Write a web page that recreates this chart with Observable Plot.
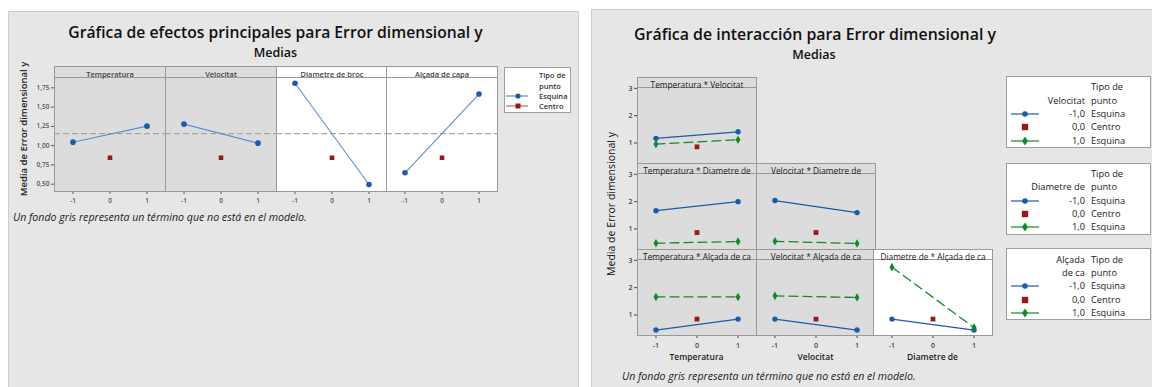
<!DOCTYPE html>
<html><head><meta charset="utf-8">
<script src="https://cdn.jsdelivr.net/npm/d3@7"></script>
<script src="https://cdn.jsdelivr.net/npm/@observablehq/plot@0.6"></script>
<style>
body{margin:0;background:#fff;font-family:"Open Sans","Noto Sans",sans-serif;}
#root{position:relative;width:1152px;height:387px;overflow:hidden;background:#fff}
.t{position:absolute;white-space:nowrap;line-height:1}
</style></head>
<body><div id="root"></div>
<script>
// ---------- DATA: main effects ----------
const mainFactors = ["Temperatura", "Velocitat", "Diametre de broc", "Alçada de capa"];
const mainInModel = [false, false, true, true];
const levels = [-1, 1];
const mainLow = [1.045, 1.279, 1.81, 0.648];   // mean at level -1 (Esquina)
const mainHigh = [1.253, 1.032, 0.496, 1.669]; // mean at level 1 (Esquina)
const mainCenter = [0.843, 0.843, 0.843, 0.843]; // mean at 0 (Centro)
const grandMean = 1.155;
const mainYTicks = [0.5, 0.75, 1.0, 1.25, 1.5, 1.75];
const xTicks = [-1, 0, 1];

// ---------- DATA: interactions ----------
const intColFactors = ["Temperatura", "Velocitat", "Diametre de"];
const intRowFactors = ["Velocitat", "Diametre de", "Alçada de ca"];
const intStrips = ["Temperatura * Velocitat", "Temperatura * Diametre de", "Velocitat * Diametre de",
                   "Temperatura * Alçada de ca", "Velocitat * Alçada de ca", "Diametre de * Alçada de ca"];
const intX = ["Temperatura", "Temperatura", "Velocitat", "Temperatura", "Velocitat", "Diametre de"];
const intTrace = ["Velocitat", "Diametre de", "Diametre de", "Alçada de ca", "Alçada de ca", "Alçada de ca"];
const intInModel = [false, false, false, false, false, true];
const intBlueLow = [1.17, 1.67, 2.04, 0.45, 0.85, 0.85];   // trace -1,0 at x=-1
const intBlueHigh = [1.41, 2.00, 1.60, 0.85, 0.45, 0.45];  // trace -1,0 at x=1
const intGreenLow = [0.96, 0.48, 0.55, 1.66, 1.70, 2.75];  // trace 1,0 at x=-1
const intGreenHigh = [1.12, 0.54, 0.47, 1.66, 1.64, 0.54]; // trace 1,0 at x=1
const intCenter = [0.86, 0.87, 0.87, 0.85, 0.85, 0.85];    // centro at x=0
const intYTicks = [1, 2, 3];
const legendLevels = ["-1,0", "0,0", "1,0"];
const legendTypes = ["Esquina", "Centro", "Esquina"];

// ---------- STYLE ----------
const FONT = '"Open Sans","Noto Sans",sans-serif';
const BLUE = "#1b5ba8", BLUE_L = "#5b8fd0", GREEN = "#14882c", RED = "#961a1a";
const GRAYBG = "#dcdcdc";
const root = document.getElementById("root");

function el(html, css) {
  const d = document.createElement("div");
  d.innerHTML = html; d.style.cssText = css; root.appendChild(d); return d;
}
function txt(s, x, y, css, anchor = "middle", parent = root) {
  const d = document.createElement("div");
  d.className = "t"; d.textContent = s;
  const tx = anchor === "middle" ? "-50%" : anchor === "end" ? "-100%" : "0";
  d.style.cssText = `left:${x}px;top:${y}px;transform:translate(${tx},-50%);` + css;
  parent.appendChild(d); return d;
}

function cell(o) {
  const mL = 34, mR = 2, mB = 26, sH = o.stripH;
  const svg = Plot.plot({
    width: o.w + mL + mR, height: sH + o.h + mB,
    marginTop: sH, marginLeft: mL, marginRight: mR, marginBottom: mB,
    style: {background: "transparent", fontFamily: FONT, fontSize: o.tickFont + "px", fontWeight: 600, color: o.tickColor, overflow: "visible"},
    x: {domain: o.xDomain, axis: o.showX ? "bottom" : null, ticks: xTicks, tickFormat: d => String(d), tickSize: 3, tickPadding: o.xPad, label: null},
    y: {domain: o.yDomain, axis: o.showY ? "left" : null, ticks: o.yTicks, tickFormat: o.yFmt, tickSize: 3, tickPadding: 2, label: null},
    marks: [
      Plot.frame({fill: o.bg, stroke: "#999999"}),
      Plot.frame({fill: o.bg, stroke: "#999999", insetTop: -sH, insetBottom: o.h}),
      Plot.text([o.strip], {text: d => d, frameAnchor: "top", dy: -sH / 2, fontSize: o.stripFont, fontWeight: o.stripWeight, fill: o.stripColor}),
      ...o.marks
    ]
  });
  svg.style.position = "absolute";
  svg.style.left = (o.left - mL) + "px";
  svg.style.top = o.top + "px";
  root.appendChild(svg);
}

// ---------- panels ----------
el("", "position:absolute;left:8px;top:11px;width:571px;height:400px;background:#e6e6e6;border:1px solid #cdcdcd;box-sizing:border-box");
el("", "position:absolute;left:591px;top:9px;width:600px;height:400px;background:#e6e6e6;border:1px solid #cdcdcd;box-sizing:border-box");

// ---------- LEFT: main effects ----------
txt("Gráfica de efectos principales para Error dimensional y", 275.5, 32.5, "font-size:15.7px;font-weight:600;color:#111");
txt("Medias", 275.5, 53.2, "font-size:12.5px;font-weight:600;color:#111");
txt("Media de Error dimensional y", 24, 129, "font-size:9.5px;font-weight:600;color:#222;transform:translate(-50%,-50%) rotate(-90deg)");

const mainLefts = [54, 165, 276, 386];
mainFactors.forEach((f, i) => {
  const pts = levels.map((lv, j) => ({x: lv, y: j ? mainHigh[i] : mainLow[i]}));
  cell({
    left: mainLefts[i], top: 66, w: 111, h: 114, stripH: 11,
    xDomain: [-1.5, 1.5], yDomain: [0.405, 1.884], yTicks: mainYTicks,
    yFmt: d => d.toFixed(2).replace(".", ","), showX: true, showY: i === 0, xPad: 4,
    tickFont: 6.5, tickColor: "#555",
    bg: mainInModel[i] ? "#ffffff" : GRAYBG, strip: f, stripFont: 7.5, stripWeight: 600, stripColor: "#444",
    marks: [
      Plot.ruleY([grandMean], {stroke: "#a6a6a6", strokeWidth: 1.2, strokeDasharray: "6,3"}),
      Plot.line(pts, {x: "x", y: "y", stroke: BLUE_L, strokeWidth: 1.1}),
      Plot.dot(pts, {x: "x", y: "y", r: 2.8, fill: BLUE}),
      Plot.dot([{x: 0, y: mainCenter[i]}], {x: "x", y: "y", symbol: "square", r: 2.6, fill: RED})
    ]
  });
});
txt("Un fondo gris representa un término que no está en el modelo.", 13, 216.5, "font-size:10.6px;font-style:italic;color:#222", "start");

// left legend
{
  const lg = el("", "position:absolute;left:504px;top:67px;width:67px;height:46px;background:#fff;border:1px solid #9e9e9e;box-sizing:border-box");
  const tx = "font-size:7.5px;font-weight:600;color:#333";
  txt("Tipo de", 34, 8, tx, "start", lg);
  txt("punto", 34, 18.5, tx, "start", lg);
  txt("Esquina", 34, 29, tx, "start", lg);
  txt("Centro", 34, 39, tx, "start", lg);
  el(`<svg width="24" height="8"><line x1="1" y1="4" x2="23" y2="4" stroke="${BLUE_L}" stroke-width="1.2"/><circle cx="13" cy="4" r="2.6" fill="${BLUE}"/></svg>`, "position:absolute;left:505px;top:92px;line-height:0");
  el(`<svg width="24" height="8"><line x1="1" y1="4" x2="23" y2="4" stroke="#b86a6a" stroke-width="1.2"/><rect x="10.5" y="1.5" width="5" height="5" fill="${RED}"/></svg>`, "position:absolute;left:505px;top:102px;line-height:0");
}

// ---------- RIGHT: interactions ----------
txt("Gráfica de interacción para Error dimensional y", 815, 35, "font-size:15.9px;font-weight:600;color:#111");
txt("Medias", 814, 54.5, "font-size:12.5px;font-weight:600;color:#111");
txt("Media de Error dimensional y", 611, 204, "font-size:10.5px;color:#111;transform:translate(-50%,-50%) rotate(-90deg)");

const colLefts = [637, 756, 873];
const rowTops = [77, 163, 249];
intStrips.forEach((s, i) => {
  const c = intColFactors.indexOf(intX[i]);
  const r = intRowFactors.indexOf(intTrace[i]);
  const blue = levels.map((lv, j) => ({x: lv, y: j ? intBlueHigh[i] : intBlueLow[i]}));
  const green = levels.map((lv, j) => ({x: lv, y: j ? intGreenHigh[i] : intGreenLow[i]}));
  cell({
    left: colLefts[c], top: rowTops[r], w: 119, h: 76, stripH: 10,
    xDomain: [-1.45, 1.45], yDomain: [0.25, 3.03], yTicks: intYTicks, yFmt: d => String(d),
    showX: r === 2, showY: c === 0, xPad: 5,
    tickFont: 7, tickColor: "#444",
    bg: intInModel[i] ? "#ffffff" : GRAYBG, strip: s, stripFont: 8.3, stripWeight: 400, stripColor: "#1a1a1a",
    marks: [
      Plot.line(blue, {x: "x", y: "y", stroke: BLUE, strokeWidth: 1.3}),
      Plot.line(green, {x: "x", y: "y", stroke: GREEN, strokeWidth: 1.3, strokeDasharray: "9,5"}),
      Plot.dot(blue, {x: "x", y: "y", r: 2.7, fill: BLUE}),
      Plot.dot(green, {x: "x", y: "y", symbol: "diamond", r: 2.6, fill: GREEN}),
      Plot.dot([{x: 0, y: intCenter[i]}], {x: "x", y: "y", symbol: "square", r: 2.7, fill: RED})
    ]
  });
});
intColFactors.forEach((f, c) => txt(f, colLefts[c] + 59.5, 357, "font-size:8.5px;font-weight:600;color:#222"));
txt("Un fondo gris representa un término que no está en el modelo.", 622, 376, "font-size:10.6px;font-style:italic;color:#222", "start");

// right legends
const legHeads = [["", "Tipo de", "Velocitat", "punto"], ["", "Tipo de", "Diametre de", "punto"], ["Alçada", "Tipo de", "de ca", "punto"]];
const legTops = [76, 162.7, 248.3];
legHeads.forEach((h, k) => {
  const lg = el("", `position:absolute;left:1006px;top:${legTops[k]}px;width:145px;height:72px;background:#fff;border:1px solid #9e9e9e;box-sizing:border-box`);
  const tx = "font-size:9.3px;color:#1a1a1a";
  const rows = [10.3, 23.6, 37, 50.3, 63.6];
  if (h[0]) txt(h[0], 78, rows[0], tx, "end", lg);
  txt(h[1], 84, rows[0], tx, "start", lg);
  txt(h[2], 78, rows[1], tx, "end", lg);
  txt(h[3], 84, rows[1], tx, "start", lg);
  legendLevels.forEach((lv, j) => {
    txt(lv, 78, rows[2 + j], tx, "end", lg);
    txt(legendTypes[j], 84, rows[2 + j], tx, "start", lg);
  });
  const svgs = [
    `<svg width="30" height="10"><line x1="1" y1="5" x2="29" y2="5" stroke="${BLUE}" stroke-width="1.2"/><circle cx="15" cy="5" r="2.8" fill="${BLUE}"/></svg>`,
    `<svg width="30" height="10"><rect x="11.8" y="1.8" width="6.4" height="6.4" fill="${RED}"/></svg>`,
    `<svg width="30" height="10"><line x1="1" y1="5" x2="29" y2="5" stroke="${GREEN}" stroke-width="1.2"/><path d="M15,0.6 L18,5 L15,9.4 L12,5 Z" fill="${GREEN}"/></svg>`
  ];
  svgs.forEach((s, j) => {
    const d = document.createElement("div");
    d.innerHTML = s; d.style.cssText = `position:absolute;left:3px;top:${rows[2 + j] - 5}px;line-height:0`;
    lg.appendChild(d);
  });
});
</script></body></html>
